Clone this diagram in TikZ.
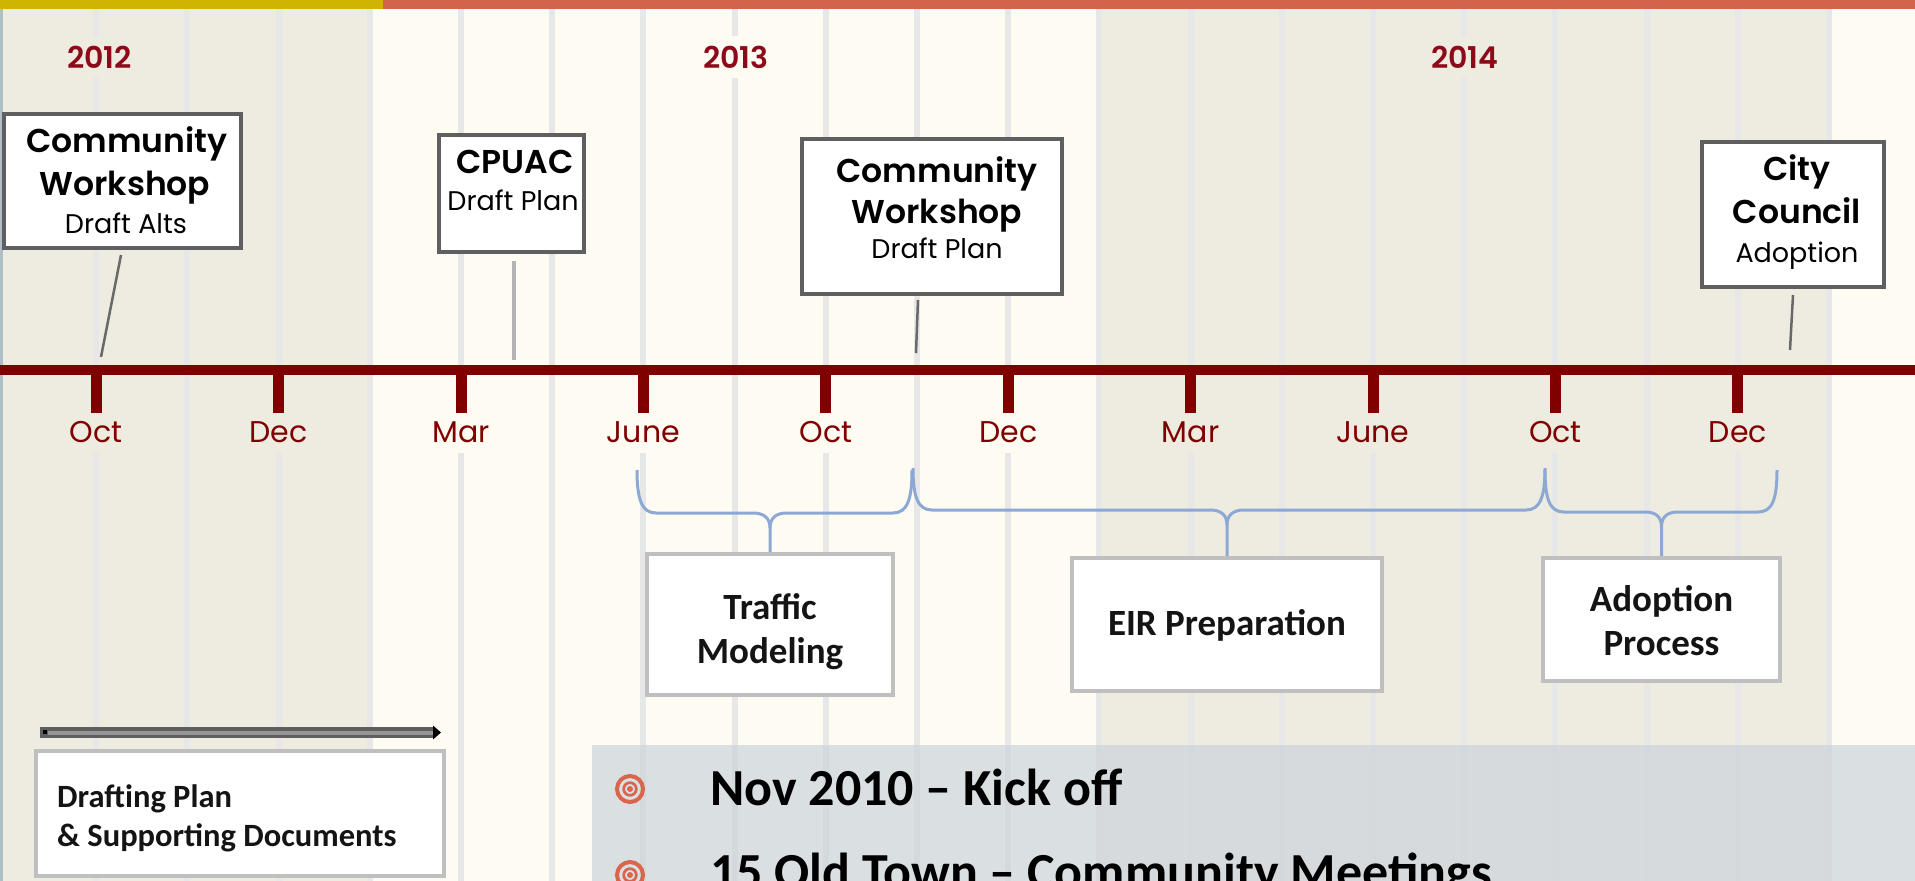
\documentclass[tikz,border=0pt]{standalone}
\usepackage{fontspec}
\newfontfamily\popf[BoldFont={Poppins SemiBold}]{Poppins}
\newfontfamily\carf{Carlito}
\definecolor{beige}{RGB}{238,235,224}
\definecolor{cream}{RGB}{254,251,243}
\definecolor{gridc}{RGB}{231,231,231}
\definecolor{tlred}{RGB}{128,0,0}
\definecolor{yearred}{RGB}{140,10,25}
\definecolor{barY}{RGB}{207,181,0}
\definecolor{barO}{RGB}{210,100,75}
\definecolor{boxdark}{RGB}{95,95,95}
\definecolor{boxlight}{RGB}{191,191,191}
\definecolor{panelc}{RGB}{204,212,219}
\definecolor{bulletc}{RGB}{217,102,76}
\definecolor{bracec}{RGB}{140,168,212}
\definecolor{edgec}{RGB}{176,190,200}
\definecolor{conngray}{RGB}{105,105,105}
\definecolor{connlight}{RGB}{180,180,180}
\definecolor{lowtext}{RGB}{20,20,20}
\definecolor{arrmid}{RGB}{150,150,150}
\tikzset{
 topbox/.style={draw=boxdark, line width=4pt, fill=white, inner sep=0pt},
 lowbox/.style={draw=boxlight, line width=4pt, fill=white, inner sep=0pt},
 bigtxt/.style={inner sep=0pt, anchor=base, font=\popf\bfseries\fontsize{33}{40}\selectfont},
 smalltxt/.style={inner sep=0pt, anchor=base, font=\popf\fontsize{27}{32}\selectfont},
 lowtxt/.style={inner sep=0pt, anchor=base, text=lowtext, font=\carf\bfseries\fontsize{37}{44}\selectfont},
 monthlbl/.style={inner sep=0pt, anchor=base, text=tlred, font=\popf\fontsize{30}{36}\selectfont},
 yearlbl/.style={anchor=base, inner xsep=3pt, inner ysep=10pt, text=yearred, font=\popf\bfseries\fontsize{30}{36}\selectfont},
 conn/.style={draw=conngray, line width=2.5pt},
 connl/.style={draw=connlight, line width=4.5pt},
 bracepath/.style={draw=bracec, line width=3pt, line join=round},
 gridline/.style={draw=gridc, line width=6pt},
 bullettxt/.style={inner sep=0pt, anchor=base west, text=black, font=\carf\bfseries\fontsize{52}{62}\selectfont},
}
\begin{document}
\begin{tikzpicture}[x=1pt,y=-1pt]
\useasboundingbox (0,0) rectangle (1915,881);
\clip (0,0) rectangle (1915,881);
% background bands
\fill[beige] (0,0) rectangle (370,881);
\fill[cream] (370,0) rectangle (1099,881);
\fill[beige] (1099,0) rectangle (1829,881);
\fill[cream] (1829,0) rectangle (1915,881);
\fill[barY] (0,0) rectangle (383,9);
\fill[barO] (383,0) rectangle (1915,9);
\fill[edgec] (0,9) rectangle (2.5,881);
% grid lines
\foreach \k in {1,3,...,19}{
  \pgfmathsetmacro\gx{5+91.2*\k}
  \draw[gridline] (\gx,9) -- (\gx,365);
  \draw[gridline] (\gx,453) -- (\gx,881);
}
\foreach \k in {2,4,...,20}{
  \pgfmathsetmacro\gx{5+91.2*\k}
  \draw[gridline] (\gx,9) -- (\gx,881);
}
% timeline
\draw[tlred, line width=10pt] (0,370) -- (1915,370);
\foreach \k/\m in {1/Oct,3/Dec,5/Mar,7/June,9/Oct,11/Dec,13/Mar,15/June,17/Oct,19/Dec}{
  \pgfmathsetmacro\gx{5+91.2*\k}
  \fill[tlred] (\gx-5.5,375) rectangle (\gx+5.5,413);
  \node[monthlbl] (m\k) at (\gx,442) {\m};
}
% years
\node[yearlbl, fill=beige] (y2012) at (99.5,68) {2012};
\node[yearlbl, fill=cream] (y2013) at (736,68) {2013};
\node[yearlbl, fill=beige] (y2014) at (1465,68) {2014};
% top boxes
\node[topbox, minimum width=237, minimum height=134] (w1) at (122.5,181) {};
\node[bigtxt] (w1a) at (127,152) {Community};
\node[bigtxt] (w1b) at (125,195) {Workshop};
\node[smalltxt] (w1c) at (126,233) {Draft Alts};
\node[topbox, minimum width=145, minimum height=117] (w2) at (511.5,193.5) {};
\node[bigtxt] (w2a) at (515,173) {CPUAC};
\node[smalltxt] (w2b) at (513,210) {Draft Plan};
\node[topbox, minimum width=260, minimum height=155] (w3) at (932,216.5) {};
\node[bigtxt] (w3a) at (937,182) {Community};
\node[bigtxt] (w3b) at (937,223) {Workshop};
\node[smalltxt] (w3c) at (937,258) {Draft Plan};
\node[topbox, minimum width=182, minimum height=145] (w4) at (1793,214.5) {};
\node[bigtxt] (w4a) at (1797,180) {City};
\node[bigtxt] (w4b) at (1797,223) {Council};
\node[smalltxt] (w4c) at (1797,262) {Adoption};
% connectors to timeline
\coordinate (c1e) at (101,357);
\coordinate (c2e) at (514,360);
\coordinate (c3e) at (916,353);
\coordinate (c4e) at (1790,350);
\draw[conn] ([xshift=-1.5pt,yshift=-5pt]w1.south) -- (c1e);
\draw[connl] ([xshift=2.5pt,yshift=-7pt]w2.south) -- (c2e);
\draw[conn] ([xshift=-14pt,yshift=-4pt]w3.south) -- (c3e);
\draw[conn] ([yshift=-6pt]w4.south) -- (c4e);
% bottom boxes
\node[lowbox, minimum width=246, minimum height=141] (tm) at (770,624.5) {};
\node[lowtxt] (tma) at (770,619) {Traffic};
\node[lowtxt] (tmb) at (770,663) {Modeling};
\node[lowbox, minimum width=310, minimum height=133] (eir) at (1227,624.5) {};
\node[lowtxt] (eira) at (1227,635) {EIR Preparation};
\node[lowbox, minimum width=237, minimum height=123] (ap) at (1661.5,619.5) {};
\node[lowtxt] (apa) at (1661.5,611) {Adoption};
\node[lowtxt] (apb) at (1661.5,655) {Process};
% braces
\draw[bracepath] (637,470) .. controls (637,500) and (642,513) .. (656,513) -- (753,513)
  .. controls (764,513) and (770,518) .. (770,528) -- (tm.north);
\draw[bracepath] (770,528) .. controls (770,518) and (776,513) .. (787,513) -- (893,513)
  .. controls (907,513) and (912,500) .. (912,470);
\draw[bracepath] (913,468) .. controls (913,497) and (918,510) .. (932,510) -- (1210,510)
  .. controls (1221,510) and (1227,515) .. (1227,525) -- (eir.north);
\draw[bracepath] (1227,525) .. controls (1227,515) and (1233,510) .. (1244,510) -- (1526,510)
  .. controls (1540,510) and (1545,497) .. (1545,468);
\draw[bracepath] (1545,470) .. controls (1545,500) and (1550,512) .. (1564,512) -- (1645,512)
  .. controls (1656,512) and (1661.5,517) .. (1661.5,527) -- (ap.north);
\draw[bracepath] (1661.5,527) .. controls (1661.5,517) and (1667,512) .. (1678,512) -- (1758,512)
  .. controls (1772,512) and (1777,500) .. (1777,470);
% drafting arrow and box
\coordinate (arrL) at (40,732.5);
\coordinate (arrR) at (433,732.5);
\draw[boxdark, line width=11pt] (arrL) -- (arrR);
\draw[arrmid, line width=4pt] ([xshift=8pt]arrL) -- (arrR);
\fill[black] (43,729.5) rectangle (47,734);
\fill[black] (arrR) ++(0,-7) -- ++(8,7) -- ++(-8,7) -- cycle;
\node[lowbox, minimum width=408, minimum height=125] (dp) at (240,813.5) {};
\node[lowtxt, anchor=base west, font=\carf\bfseries\fontsize{32.5}{38}\selectfont] (dpa) at (57,807) {Drafting Plan};
\node[lowtxt, anchor=base west, font=\carf\bfseries\fontsize{32.5}{38}\selectfont] (dpb) at (57,846) {\& Supporting Documents};
% bottom panel
\fill[panelc, opacity=0.7] (592,745) rectangle (1915,881);
\foreach \yy/\nm in {789/b1,875/b2}{
  \draw[bulletc, line width=4pt] (630,\yy) circle[radius=13];
  \draw[bulletc, line width=2.7pt] (630,\yy) circle[radius=6.35];
  \fill[bulletc] (630,\yy) circle[radius=3];
}
\node[bullettxt] (t1) at (710,805) {Nov 2010 – Kick off};
\node[bullettxt] (t2) at (710,889) {15 Old Town – Community Meetings};
\end{tikzpicture}
\end{document}
